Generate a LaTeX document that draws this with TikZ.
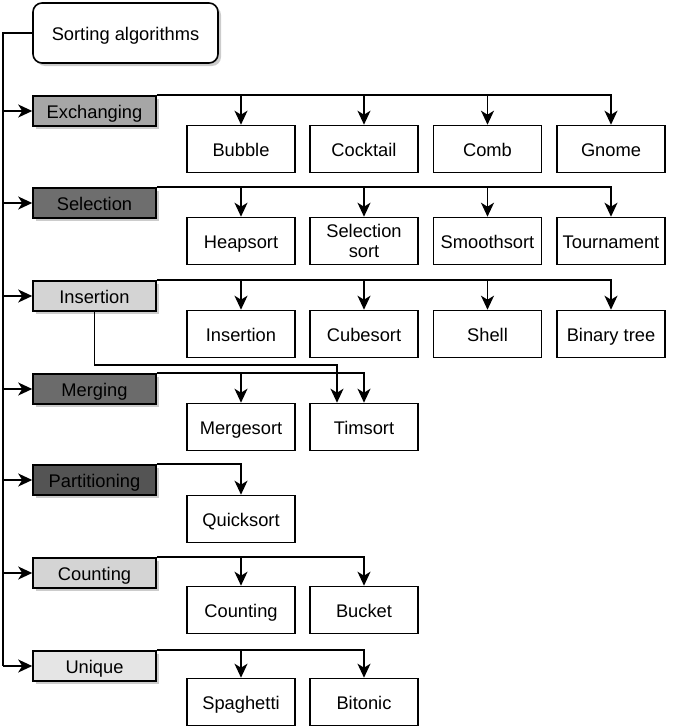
\documentclass[tikz,border=0pt]{standalone}
\usepackage{fontspec}
\setmainfont{Liberation Sans}
\usetikzlibrary{arrows.meta,shadows}
\begin{document}
\begin{tikzpicture}[x=1pt,y=-1pt,
  every node/.style={font=\fontsize{18.3}{20}\selectfont, inner sep=0pt, align=center},
  oneline/.style={text height=15pt, text depth=0pt},
  link/.style={line width=1.6pt, line join=miter},
  arr/.style={link, -{Stealth[length=14pt,width=13pt,inset=4pt]}},
  boxshadow/.style={drop shadow={shadow xshift=3pt, shadow yshift=-3pt, fill=black!20, opacity=1}},
  rootbox/.style={draw, line width=1.6pt, fill=white, rounded corners=9pt,
                  minimum width=185pt, minimum height=60pt, boxshadow, oneline},
  catbox/.style={draw, line width=1.6pt, minimum width=123pt, minimum height=30pt, boxshadow, oneline},
  leafbase/.style={draw, line width=1.6pt, fill=white, minimum width=108pt, minimum height=47pt},
  leafbox/.style={leafbase, oneline}
]
\useasboundingbox (0,0) rectangle (685,728);

% root and categories
\node[rootbox] (root) at (125.5,33) {Sorting algorithms};
\node[catbox, fill=black!35] (ex) at (94.5,111) {Exchanging};
\node[catbox, fill=black!57] (se) at (94.5,203) {Selection};
\node[catbox, fill=black!17] (in) at (94.5,296) {Insertion};
\node[catbox, fill=black!58] (me) at (94.5,389) {Merging};
\node[catbox, fill=black!67] (pa) at (94.5,480) {Partitioning};
\node[catbox, fill=black!17] (co) at (94.5,573) {Counting};
\node[catbox, fill=black!10] (un) at (94.5,666) {Unique};

% algorithms
\node[leafbox] (ex1) at (241,149) {Bubble};
\node[leafbox] (ex2) at (364,149) {Cocktail};
\node[leafbox] (ex3) at (487.5,149) {Comb};
\node[leafbox] (ex4) at (611,149) {Gnome};

\node[leafbox] (se1) at (241,241) {Heapsort};
\node[leafbase] (se2) at (364,241) {Selection\\sort};
\node[leafbox] (se3) at (487.5,241) {Smoothsort};
\node[leafbox] (se4) at (611,241) {Tournament};

\node[leafbox] (in1) at (241,334) {Insertion};
\node[leafbox] (in2) at (364,334) {Cubesort};
\node[leafbox] (in3) at (487.5,334) {Shell};
\node[leafbox] (in4) at (611,334) {Binary tree};

\node[leafbox] (me1) at (241,427) {Mergesort};
\node[leafbox] (me2) at (364,427) {Timsort};

\node[leafbox] (pa1) at (241,519) {Quicksort};

\node[leafbox] (co1) at (241,610) {Counting};
\node[leafbox] (co2) at (364,610) {Bucket};

\node[leafbox] (un1) at (241,702) {Spaghetti};
\node[leafbox] (un2) at (364,702) {Bitonic};

% trunk from the root to every category
\coordinate (tk) at (3,666);
\draw[link] (root.west) -| (tk);
\foreach \c in {ex,se,in,me,pa,co,un}
  \draw[arr] (tk |- \c.west) -- (\c.west);

% category rails with drops to each algorithm
\foreach \c/\last/\others in {ex/ex4/{ex1,ex2,ex3}, se/se4/{se1,se2,se3}, in/in4/{in1,in2,in3}}{
  \draw[arr] (\c.north east) -| (\last.north);
  \foreach \l in \others
    \draw[arr] (\c.north east -| \l.north) -- (\l.north);
}
\draw[arr] (me.north east) -| (me2.north);
\draw[arr] (me.north east -| me1.north) -- (me1.north);
\draw[arr] (pa.north east) -| (pa1.north);
\draw[arr] (co.north east) -| (co2.north);
\draw[arr] (co.north east -| co1.north) -- (co1.north);
\draw[arr] (un.north east) -| (un2.north);
\draw[arr] (un.north east -| un1.north) -- (un1.north);

% Timsort is also an insertion sort
\coordinate (tsin) at ([xshift=-27pt]me2.north);
\draw[arr] (in.south) -- ++(0,53) -| (tsin);
\end{tikzpicture}
\end{document}
